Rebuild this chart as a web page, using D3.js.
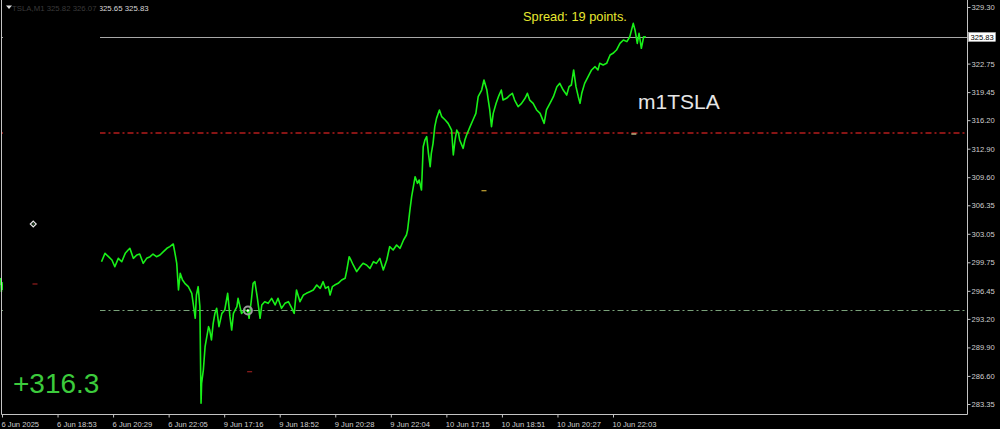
<!DOCTYPE html>
<html>
<head>
<meta charset="utf-8">
<script src="https://cdn.jsdelivr.net/npm/d3@7"></script>
<style>
  html, body { margin: 0; padding: 0; background: #000; }
  svg { display: block; }
</style>
</head>
<body>
<svg id="chart" width="1000" height="429"></svg>
<script>
// ---- data ----
const symbol = "TSLA,M1";
const ohlc = [325.82, 326.07, 325.65, 325.83];
const lastPrice = 325.83;
const spreadText = "Spread: 19 points.";
const chartLabel = "m1TSLA";
const profitText = "+316.3";

// time axis: tick labels every 96 bars
const timeTickBars = [0, 96, 192, 288, 384, 480, 576, 672, 768, 864, 960, 1056];
const timeTickLabels = ["6 Jun 2025", "6 Jun 18:53", "6 Jun 20:29", "6 Jun 22:05", "9 Jun 17:16", "9 Jun 18:52",
  "9 Jun 20:28", "9 Jun 22:04", "10 Jun 17:15", "10 Jun 18:51", "10 Jun 20:27", "10 Jun 22:03"];

// price axis tick labels
const priceTicks = [329.30, 322.75, 319.45, 316.20, 312.90, 309.60, 306.35, 303.05, 299.75, 296.45, 293.20, 289.90, 286.60, 283.35];

// first visible piece (left edge)
const introBars = [-3, -2, -1, 0, 1];
const introPrices = [297.12, 297.93, 296.31, 297.47, 296.55];

// main close line (bar index, price)
const bars = [172,178,184,190,195,201,207,213,218,221,227,233,238,244,250,256,261,267,273,279,
  285,290,296,299,302,305,308,312,316,322,328,332,334,336,339,342,344,345,348,351,
  354,357,359,362,365,368,371,375,380,385,390,394,397,400,406,408,414,420,425,427,
  431,434,437,441,446,449,454,460,466,472,477,483,489,495,501,505,509,515,521,526,
  532,538,544,550,555,559,564,567,571,575,581,587,593,596,600,603,607,613,619,624,
  630,636,642,647,653,659,665,670,676,682,688,694,699,701,705,708,714,718,721,725,
  728,731,734,737,740,742,745,748,751,756,760,766,771,774,777,780,783,786,789,791,
  797,800,803,809,814,819,823,829,833,838,840,843,846,849,854,858,863,866,872,878,
  882,886,892,898,904,908,912,918,924,930,937,941,947,953,959,964,970,976,980,984,
  988,992,996,999,1002,1007,1013,1019,1025,1030,1033,1039,1045,1051,1056,1062,1068,1074,1080,1085,
  1091,1094,1098,1101,1105,1109,1113];
const prices = [299.82,300.79,300.40,300.02,299.24,300.21,299.82,300.79,301.17,301.37,
  300.21,300.60,300.71,299.63,300.21,300.40,300.71,300.40,300.60,300.98,
  301.37,301.56,301.87,300.79,299.63,296.54,298.47,297.70,297.32,296.93,
  296.16,294.23,293.27,295.97,296.93,294.62,283.43,285.74,287.29,289.99,
  291.14,292.30,291.91,290.76,292.69,293.84,294.42,292.30,293.84,294.23,
  296.16,293.46,291.91,293.84,294.62,295.58,293.84,294.23,294.04,293.27,
  295.39,297.32,297.51,295.77,293.27,294.81,295.19,295.00,295.58,294.81,
  295.58,294.42,295.00,295.19,294.42,293.84,296.54,295.19,295.97,296.16,
  296.35,296.54,297.12,296.74,297.51,296.74,296.93,295.97,296.93,297.12,
  297.32,297.70,297.90,298.86,300.40,300.02,299.44,298.67,299.24,299.63,
  299.44,299.05,299.82,299.63,300.21,298.86,300.02,301.56,301.17,301.75,
  301.37,302.33,302.91,303.49,305.80,307.35,309.66,308.89,309.28,308.12,
  313.13,313.91,314.29,312.36,310.82,312.36,313.52,315.45,316.41,317.38,
  316.61,316.22,315.83,315.45,315.06,312.17,313.91,315.06,314.68,313.91,
  312.94,313.91,314.48,315.45,316.22,316.99,318.92,319.69,320.85,319.69,
  318.73,317.38,315.45,316.99,318.15,318.92,319.69,318.53,318.73,319.11,
  319.31,318.53,317.76,318.15,318.73,319.31,318.53,318.15,317.38,316.99,
  315.83,317.38,318.15,318.92,320.08,320.46,319.69,319.11,320.08,320.27,
  322.01,320.08,318.92,318.15,319.31,320.46,321.24,322.01,322.39,322.01,
  322.78,322.59,322.78,323.74,323.94,324.32,325.09,325.48,325.29,325.86,
  327.41,326.64,325.09,326.25,324.52,325.86,325.83];

// horizontal levels
const redLevel = 314.68;
const greenLevel = 294.23;

// small object markers
const markerKinds = ["diamond", "dash", "circle", "dash", "dash", "dash"];
const markerBars = [54, 57, 425, 428, 833, 1092];
const markerPrices = [304.18, 297.24, 294.17, 287.09, 308.04, 314.60];
const markerColors = ["#e8e8e8", "#8a1c1c", "#9a9a9a", "#8a1c1c", "#b89a30", "#c8c890"];

// ---- drawing ----
const W = 1000, H = 429;
const plotLeft = 1.5, plotRight = 967.5, plotBottom = 414.5;
const svg = d3.select("#chart");
svg.append("rect").attr("width", W).attr("height", H).attr("fill", "#000");

const x = d3.scaleLinear().domain([0, 1056]).range([2, 613]);
const y = d3.scaleLinear().domain([283.35, 329.30]).range([404, 7]);

const font = "'Liberation Sans', Arial, sans-serif";

svg.append("clipPath").attr("id", "plotclip").append("rect")
  .attr("x", 0).attr("y", 0).attr("width", plotRight).attr("height", plotBottom);

const plot = svg.append("g").attr("clip-path", "url(#plotclip)");

// levels
plot.append("line")
  .attr("x1", plotLeft).attr("x2", plotRight)
  .attr("y1", Math.round(y(redLevel))).attr("y2", Math.round(y(redLevel)))
  .attr("stroke", "#b41c1c").attr("stroke-width", 1.6).attr("stroke-dasharray", "6,3,2,3");
plot.append("line")
  .attr("x1", plotLeft).attr("x2", plotRight)
  .attr("y1", Math.round(y(greenLevel)) + 0.5).attr("y2", Math.round(y(greenLevel)) + 0.5)
  .attr("stroke", "#7aa27a").attr("stroke-width", 1).attr("stroke-dasharray", "6,3,2,3");
// bid line
plot.append("line")
  .attr("x1", plotLeft).attr("x2", plotRight)
  .attr("y1", Math.round(y(lastPrice)) + 0.5).attr("y2", Math.round(y(lastPrice)) + 0.5)
  .attr("stroke", "#a8a8a8").attr("stroke-width", 1);

const line = d3.line().x(d => x(d[0])).y(d => y(d[1]));
const introData = introBars.map((b, i) => [b, introPrices[i]]);
const mainData = bars.map((b, i) => [b, prices[i]]);

plot.append("path").datum(introData).attr("d", line)
  .attr("fill", "none").attr("stroke", "#18f018").attr("stroke-width", 1.6);
plot.append("path").datum(mainData).attr("d", line)
  .attr("fill", "none").attr("stroke", "#18f018").attr("stroke-width", 1.6)
  .attr("stroke-linejoin", "round");

// opaque panel on the left part of the window (hides drawing beneath)
svg.append("rect").attr("x", 3).attr("y", 0).attr("width", 97).attr("height", 413).attr("fill", "#000");

// markers
markerKinds.forEach((k, i) => {
  const cx = x(markerBars[i]), cy = y(markerPrices[i]);
  if (k === "diamond") {
    svg.append("path")
      .attr("d", d3.symbol(d3.symbolDiamond2, 22)())
      .attr("transform", `translate(${cx},${cy})`)
      .attr("fill", "none").attr("stroke", markerColors[i]).attr("stroke-width", 1.2);
    svg.append("circle").attr("cx", cx).attr("cy", cy).attr("r", 0.8).attr("fill", "#3a8a3a");
  } else if (k === "circle") {
    svg.append("circle").attr("cx", cx).attr("cy", cy).attr("r", 4)
      .attr("fill", "none").attr("stroke", markerColors[i]).attr("stroke-width", 2);
    svg.append("circle").attr("cx", cx).attr("cy", cy).attr("r", 1.2).attr("fill", "#ffffff");
  } else {
    svg.append("line").attr("x1", cx - 2.5).attr("x2", cx + 2.5).attr("y1", cy).attr("y2", cy)
      .attr("stroke", markerColors[i]).attr("stroke-width", 1.3);
  }
});

// frame
svg.append("path")
  .attr("d", `M${plotLeft},0V${plotBottom}H${plotRight}V0`)
  .attr("fill", "none").attr("stroke", "#c4c4c4").attr("stroke-width", 1);

// right price axis
const yAxis = d3.axisRight(y).tickValues(priceTicks).tickSize(3).tickPadding(1)
  .tickFormat(d3.format(".2f"));
const gy = svg.append("g").attr("transform", `translate(${plotRight},0)`).call(yAxis);
gy.select(".domain").remove();
gy.selectAll(".tick line").attr("stroke", "#c4c4c4");
gy.selectAll(".tick text").attr("fill", "#cfcfcf").attr("font-family", font).attr("font-size", 7.6);

// last price box
const ly = y(lastPrice);
svg.append("rect").attr("x", 968.5).attr("y", ly - 4.5).attr("width", 27).attr("height", 9)
  .attr("fill", "#ffffff").attr("stroke", "#c0c0c0").attr("stroke-width", 0.5);
svg.append("text").attr("x", 970.5).attr("y", ly + 2.7).text(d3.format(".2f")(lastPrice))
  .attr("fill", "#000").attr("font-family", font).attr("font-size", 7.6);

// bottom time axis
const xAxis = d3.axisBottom(x).tickValues(timeTickBars).tickSize(3).tickPadding(4)
  .tickFormat((d, i) => timeTickLabels[i]);
const gx = svg.append("g").attr("transform", `translate(0,${plotBottom})`).call(xAxis);
gx.select(".domain").remove();
gx.selectAll(".tick line").attr("stroke", "#c4c4c4");
gx.selectAll(".tick text").attr("fill", "#cfcfcf").attr("font-family", font).attr("font-size", 7.6)
  .attr("text-anchor", "start").attr("dx", -1);

// header
const headerStr = `${symbol}  ${ohlc.map(v => v.toFixed(2)).join(" ")}`;
svg.append("path").attr("d", "M6,5.5h6l-3,3.5z").attr("fill", "#e0e0e0");
svg.append("clipPath").attr("id", "dimclip").append("rect").attr("x", 0).attr("y", 0).attr("width", 100).attr("height", 20);
svg.append("clipPath").attr("id", "brightclip").append("rect").attr("x", 100).attr("y", 0).attr("width", 200).attr("height", 20);
svg.append("text").attr("x", 12).attr("y", 10.5).text(headerStr)
  .attr("fill", "#3a3a3a").attr("font-family", font).attr("font-size", 7.8).attr("clip-path", "url(#dimclip)");
svg.append("text").attr("x", 12).attr("y", 10.5).text(headerStr)
  .attr("fill", "#d8d8d8").attr("font-family", font).attr("font-size", 7.8).attr("clip-path", "url(#brightclip)");

// texts
svg.append("text").attr("x", 523).attr("y", 21).text(spreadText)
  .attr("fill", "#e8e830").attr("font-family", font).attr("font-size", 12.8);
svg.append("text").attr("x", 638).attr("y", 109).text(chartLabel)
  .attr("fill", "#e6e6e6").attr("font-family", font).attr("font-size", 21);
svg.append("text").attr("x", 13).attr("y", 393).text(profitText)
  .attr("fill", "#3ccb3c").attr("font-family", font).attr("font-size", 28);
</script>
</body>
</html>
